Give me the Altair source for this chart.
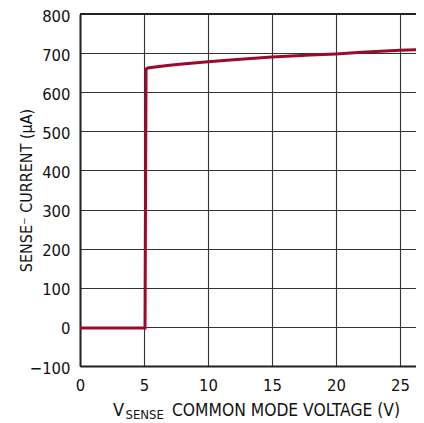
import altair as alt
import pandas as pd

# Curve data
volts = [0, 2, 4, 5.0, 5.08, 5.16, 5.3, 6, 7, 8, 10, 12, 15, 18, 20, 22, 25, 27]
current = [-3, -3, -3, -3, -3, 659, 662, 665, 669, 672, 678, 683, 690, 695, 698, 702, 707, 710]

x_ticks = [0, 5, 10, 15, 20, 25]
y_ticks = [-100, 0, 100, 200, 300, 400, 500, 600, 700, 800]

FONT = "DejaVu Sans Condensed, Roboto, sans-serif"
df = pd.DataFrame({"v": volts, "i": current})

W, H = 336, 352

line = alt.Chart(df).mark_line(color="#9b0a2e", strokeWidth=3, clip=True, strokeJoin="miter").encode(
    x=alt.X("v:Q", scale=alt.Scale(domain=[0, 26.25], nice=False, zero=False),
            axis=alt.Axis(values=x_ticks, title=None, grid=True, gridColor="#333", gridWidth=1.1,
                          domainColor="#222", domainWidth=2, ticks=False, labelPadding=11,
                          labelFont=FONT, labelFontSize=16.5, labelColor="#111", labelFlush=False)),
    y=alt.Y("i:Q", scale=alt.Scale(domain=[-100, 800], nice=False),
            axis=alt.Axis(values=y_ticks, title="SENSE\u207b CURRENT (µA)", grid=True, gridColor="#333",
                          gridWidth=1.1, domainColor="#222", domainWidth=2, ticks=False, labelPadding=10,
                          labelFont=FONT, labelFontSize=16.5, labelColor="#111", labelOffset=2,
                          titleFont=FONT, titleFontSize=16, titleFontWeight="normal", titleColor="#111",
                          titleX=-49, titleY=H / 2, titleAngle=270, titleAlign="center",
                          titleBaseline="alphabetic")),
)

top = alt.Chart().mark_rule(color="#222", strokeWidth=2).encode(
    x=alt.value(0), x2=alt.value(W), y=alt.value(0))

t_v = alt.Chart().mark_text(text="V", font=FONT, fontSize=18, align="left", baseline="alphabetic",
                            color="#111").encode(x=alt.value(33), y=alt.value(402))
t_sense = alt.Chart().mark_text(text="SENSE", font=FONT, fontSize=13, align="left", baseline="alphabetic",
                                color="#111").encode(x=alt.value(45.5), y=alt.value(405))
t_rest = alt.Chart().mark_text(text="COMMON MODE VOLTAGE (V)", font=FONT, fontSize=17.3, align="left",
                               baseline="alphabetic", color="#111").encode(x=alt.value(92), y=alt.value(402))

chart = alt.layer(line, top, t_v, t_sense, t_rest).properties(
    width=W, height=H,
    autosize=alt.AutoSizeParams(type="none"),
    padding={"left": 72, "top": 6, "right": 0, "bottom": 55},
).configure_view(stroke=None).configure(background="white")

chart.save("out.html", embed_options={"renderer": "svg", "actions": False})
